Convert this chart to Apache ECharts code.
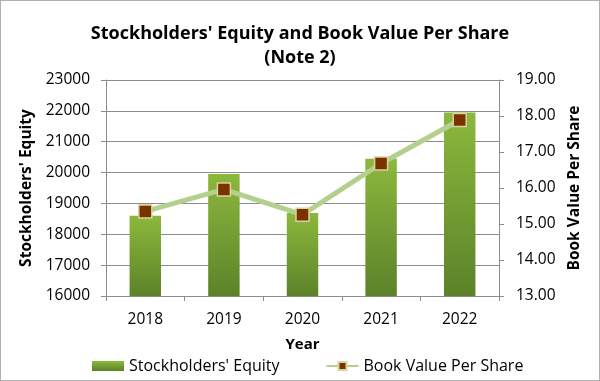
<!DOCTYPE html>
<html><head><meta charset="utf-8">
<script src="https://cdn.jsdelivr.net/npm/echarts@6/dist/echarts.min.js"></script>
<style>html,body{margin:0;padding:0;background:#fff}#c{width:600px;height:381px;box-sizing:border-box;border:1px solid #b0b0b0}</style>
</head><body><div id="c"></div>
<script>
const years = ['2018','2019','2020','2021','2022'];
const equity = [18600, 19950, 18690, 20450, 21950];
const bvps = [15.35, 15.96, 15.26, 16.68, 17.89];
const leftTicks = [16000, 23000, 1000];
const rightTicks = [13, 19, 1];

const chart = echarts.init(document.getElementById('c'), null, {renderer:'canvas'});
const fnt = "'Open Sans', 'Noto Sans', sans-serif";
chart.setOption({
  animation:false,
  title:{text:"Stockholders' Equity and Book Value Per Share\n(Note 2)", left:'center', top:16,
    textStyle:{fontFamily:fnt, fontWeight:'bold', fontSize:18, color:'#000', lineHeight:24}},
  grid:{left:105, right:100, top:79, bottom:84},
  legend:{top:352, left:86, itemGap:46, itemWidth:32, itemHeight:10,
    textStyle:{fontFamily:fnt, fontSize:16, color:'#000'},
    data:[{name:"Stockholders' Equity", icon:'rect'}, {name:'Book Value Per Share'}]},
  xAxis:{type:'category', data:years, name:'Year', nameLocation:'middle', nameGap:41,
    nameTextStyle:{fontFamily:fnt, fontWeight:'bold', fontSize:15, color:'#000'},
    axisLine:{lineStyle:{color:'#8c8c8c'}}, axisTick:{show:true, length:5, lineStyle:{color:'#8c8c8c'}},
    axisLabel:{fontFamily:fnt, fontSize:15.5, color:'#000', margin:16}},
  yAxis:[
    {type:'value', min:leftTicks[0], max:leftTicks[1], interval:leftTicks[2],
     name:"Stockholders' Equity", nameLocation:'middle', nameGap:71, nameRotate:90,
     nameTextStyle:{fontFamily:fnt, fontWeight:'bold', fontSize:15.5, color:'#000'},
     axisLine:{show:true, lineStyle:{color:'#8c8c8c'}}, axisTick:{show:true, length:5, lineStyle:{color:'#8c8c8c'}},
     splitLine:{lineStyle:{color:'#8c8c8c'}},
     axisLabel:{fontFamily:fnt, fontSize:15.5, color:'#000', margin:16, formatter:v=>String(v)}},
    {type:'value', min:rightTicks[0], max:rightTicks[1], interval:rightTicks[2],
     name:'Book Value Per Share', nameLocation:'middle', nameGap:64, nameRotate:90,
     nameTextStyle:{fontFamily:fnt, fontWeight:'bold', fontSize:15.5, color:'#000'},
     axisLine:{show:true, lineStyle:{color:'#8c8c8c'}}, axisTick:{show:true, length:5, lineStyle:{color:'#8c8c8c'}},
     splitLine:{show:false},
     axisLabel:{fontFamily:fnt, fontSize:15.5, color:'#000', margin:17, formatter:v=>v.toFixed(2)}}
  ],
  series:[
    {name:"Stockholders' Equity", type:'bar', data:equity, barWidth:'40%',
     itemStyle:{color:new echarts.graphic.LinearGradient(0,0,0,1,[{offset:0,color:'#8cb83c'},{offset:1,color:'#5c8229'}])}},
    {name:'Book Value Per Share', type:'line', yAxisIndex:1, data:bvps,
     lineStyle:{color:'#b4d08e', width:5}, symbol:'rect', symbolSize:13,
     itemStyle:{color:'#7a3300', borderColor:'#d9d29a', borderWidth:1.5}}
  ]
});
</script></body></html>
